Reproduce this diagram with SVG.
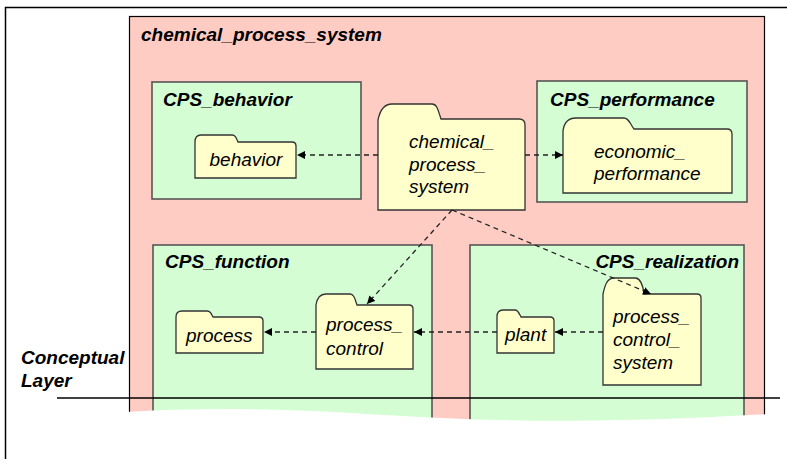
<svg xmlns="http://www.w3.org/2000/svg" width="787" height="459" viewBox="0 0 787 459">
<defs>
<style>
.pkg{fill:#ffccc4;stroke:#000;stroke-width:1.2}
.sub{fill:#d4fdd4;stroke:#555;stroke-width:1.6}
.fold{fill:#ffffcc;stroke:#333;stroke-width:1.3}
.title{font-family:"Liberation Sans",Arial,sans-serif;font-size:19px;font-weight:bold;font-style:italic;fill:#000}
.lbl{font-family:"Liberation Sans",Arial,sans-serif;font-size:19px;font-style:italic;fill:#000}
.dep{fill:none;stroke:#222;stroke-width:1.3;stroke-dasharray:5,4;marker-end:url(#ah)}
</style>
<marker id="ah" viewBox="0 0 10 10" refX="10" refY="5" markerWidth="8" markerHeight="8" markerUnits="userSpaceOnUse" orient="auto">
<path d="M0,0 L10,5 L0,10 Z" fill="#000"/>
</marker>
</defs>
<rect width="787" height="459" fill="#fff"/>
<path d="M5.5,459 V7.5 H787" fill="none" stroke="#000" stroke-width="1.5"/>

<g id="chemical_process_system_pkg">
<rect class="pkg" x="129.5" y="16.5" width="635" height="420"/>
<text class="title" x="141" y="41">chemical_process_system</text>
</g>

<g id="CPS_behavior">
<rect class="sub" x="152" y="82" width="209" height="117"/>
<text class="title" x="163" y="106">CPS_behavior</text>
</g>
<g id="CPS_performance">
<rect class="sub" x="537" y="81" width="210" height="121"/>
<text class="title" x="550" y="106">CPS_performance</text>
</g>
<g id="CPS_function">
<rect class="sub" x="153" y="245" width="279" height="190"/>
<text class="title" x="165" y="268">CPS_function</text>
</g>
<g id="CPS_realization">
<rect class="sub" x="470" y="245" width="274" height="190"/>
<text class="title" x="739" y="268" text-anchor="end">CPS_realization</text>
</g>

<g id="behavior">
<path class="fold" d="M195,178 V142 C195,137 197,135 201,135 H232 C235,135 236,137 238,142 H292 Q296,142 296,146 V178 Z"/>
<text class="lbl" x="246" y="166" text-anchor="middle">behavior</text>
</g>
<g id="chemical_process_system">
<path class="fold" d="M378,210 V120 C380,110 384,104 392,104 H432 C437,104 438,110 441,119 H519 Q525,119 525,125 V210 Z"/>
<text class="lbl" x="409" y="148">chemical_</text>
<text class="lbl" x="409" y="171">process_</text>
<text class="lbl" x="409" y="193">system</text>
</g>
<g id="economic_performance">
<path class="fold" d="M563,193 V131 C564,123 568,118 576,118 H624 C629,118 630,124 634,129 H727 Q732,129 732,134 V193 Z"/>
<text class="lbl" x="594" y="158">economic_</text>
<text class="lbl" x="594" y="180">performance</text>
</g>
<g id="process">
<path class="fold" d="M176,353 V317 C176,313 178,311 182,311 H207 C210,311 211,313 213,317 H259 Q263,317 263,321 V353 Z"/>
<text class="lbl" x="186" y="342">process</text>
</g>
<g id="process_control">
<path class="fold" d="M316,369 V305 C317,298 320,294 326,294 H350 C354,294 355,299 357,305 H409 Q413,305 413,309 V369 Z"/>
<text class="lbl" x="326" y="331">process_</text>
<text class="lbl" x="326" y="355">control</text>
</g>
<g id="plant">
<path class="fold" d="M497,353 V317 C497,313 499,310 503,310 H515 C518,310 519,313 521,317 H550 Q554,317 554,321 V353 Z"/>
<text class="lbl" x="505" y="341">plant</text>
</g>
<g id="process_control_system">
<path class="fold" d="M603,385 V294 C605,285 607,279 613,278 H636 C641,279 643,286 644,294 H697 Q701,294 701,298 V385 Z"/>
<text class="lbl" x="613" y="323">process_</text>
<text class="lbl" x="613" y="346">control_</text>
<text class="lbl" x="613" y="369">system</text>
</g>

<g id="connectors">
<path class="dep" d="M378,155 H297"/>
<path class="dep" d="M525,155 H563"/>
<path class="dep" d="M452,210 L367,304"/>
<path class="dep" d="M452,210 L651,294"/>
<path class="dep" d="M603,332 H555"/>
<path class="dep" d="M497,332 H414"/>
<path class="dep" d="M316,332 H264"/>
</g>

<path d="M125,412 C250,405 330,412 420,417 C520,422 620,423 770,414 L770,459 L125,459 Z" fill="#fff"/>
<line x1="57" y1="398" x2="780" y2="398" stroke="#000" stroke-width="1.3"/>
<g id="conceptual_layer">
<text class="title" x="21" y="364" font-style="italic">Conceptual</text>
<text class="title" x="21" y="387">Layer</text>
</g>
</svg>
